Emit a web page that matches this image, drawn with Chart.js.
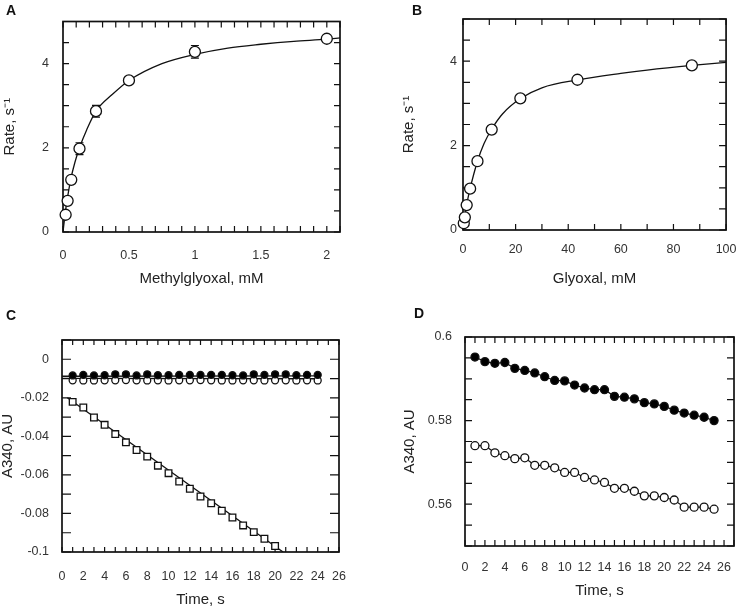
<!DOCTYPE html>
<html><head><meta charset="utf-8">
<script src="https://cdn.jsdelivr.net/npm/chart.js@4"></script>
<style>
html,body{margin:0;padding:0;background:#fff;width:749px;height:607px;overflow:hidden;}
.p{position:absolute;}
.p canvas{display:block;}
.lbl{position:absolute;font:bold 14px "Liberation Sans",Arial,sans-serif;line-height:14px;color:#111;}
</style></head><body>
<div class="p" style="left:0;top:0"><canvas id="cA" width="375" height="300"></canvas></div>
<div class="p" style="left:375px;top:0"><canvas id="cB" width="374" height="300"></canvas></div>
<div class="p" style="left:0;top:300px"><canvas id="cC" width="375" height="307"></canvas></div>
<div class="p" style="left:375px;top:300px"><canvas id="cD" width="374" height="307"></canvas></div>
<div class="lbl" style="left:6px;top:3px">A</div>
<div class="lbl" style="left:412px;top:3px">B</div>
<div class="lbl" style="left:6px;top:308px">C</div>
<div class="lbl" style="left:414px;top:306px">D</div>
<script>
// ---------- Panel A: methylglyoxal ----------
const A_conc = [0.02, 0.035, 0.0625, 0.125, 0.25, 0.5, 1, 2];
const A_rate = [0.41, 0.74, 1.24, 1.98, 2.87, 3.6, 4.28, 4.59];
const A_err  = [0.04, 0.05, 0.05, 0.14, 0.14, 0.08, 0.15, 0.05];
const A_fitX = [0, 0.015, 0.03, 0.06, 0.09, 0.125, 0.18, 0.25, 0.375, 0.5, 0.75, 1, 1.25, 1.5, 1.75, 2, 2.1];
const A_fitY = [0, 0.4, 0.74, 1.27, 1.65, 2.0, 2.43, 2.87, 3.27, 3.6, 4.0, 4.22, 4.37, 4.46, 4.53, 4.58, 4.61];
// ---------- Panel B: glyoxal ----------
const B_conc = [0.3, 0.7, 1.4, 2.7, 5.5, 10.9, 21.8, 43.5, 87];
const B_rate = [0.16, 0.30, 0.59, 0.98, 1.63, 2.38, 3.12, 3.56, 3.9];
const B_fitX = [0, 0.3, 0.7, 1.4, 2.7, 5.5, 8, 11, 15, 22, 30, 44, 60, 70, 87, 100];
const B_fitY = [0, 0.17, 0.33, 0.6, 0.98, 1.63, 2.05, 2.4, 2.75, 3.12, 3.37, 3.56, 3.71, 3.79, 3.9, 3.97];
// ---------- Panel C: time courses ----------
const C_time = [1,2,3,4,5,6,7,8,9,10,11,12,13,14,15,16,17,18,19,20,21,22,23,24];
const C_filled = [-0.0084,-0.0081,-0.0084,-0.0083,-0.0078,-0.0078,-0.0084,-0.0078,-0.0083,-0.0083,-0.0081,-0.0081,-0.0081,-0.0081,-0.0081,-0.0083,-0.0084,-0.0078,-0.0081,-0.0078,-0.0078,-0.0083,-0.0081,-0.0081];
const C_open = [-0.0109,-0.011,-0.011,-0.0109,-0.0109,-0.0108,-0.0109,-0.011,-0.0109,-0.011,-0.0109,-0.0109,-0.0108,-0.0109,-0.011,-0.011,-0.0109,-0.0109,-0.011,-0.0109,-0.0109,-0.011,-0.0109,-0.011];
const C_sqTime = [1,2,3,4,5,6,7,8,9,10,11,12,13,14,15,16,17,18,19,20];
const C_square = [-0.0221,-0.025,-0.0302,-0.034,-0.0388,-0.0431,-0.0471,-0.0505,-0.0552,-0.0591,-0.0634,-0.0672,-0.0712,-0.0747,-0.0786,-0.0821,-0.0862,-0.0897,-0.0931,-0.0969];
const C_filledFitX = [0, 24], C_filledFitY = [-0.0088, -0.0086];
const C_openFitX = [0, 24],   C_openFitY = [-0.0099, -0.0101];
const C_sqFitX = [0.5, 20.75], C_sqFitY = [-0.0200, -0.1];
// ---------- Panel D ----------
const D_time = [1,2,3,4,5,6,7,8,9,10,11,12,13,14,15,16,17,18,19,20,21,22,23,24,25];
const D_filled = [0.5952,0.5941,0.5937,0.5939,0.5925,0.592,0.5914,0.5905,0.5896,0.5895,0.5885,0.5878,0.5874,0.5874,0.5858,0.5856,0.5852,0.5843,0.584,0.5834,0.5825,0.5818,0.5813,0.5808,0.58];
const D_open = [0.574,0.574,0.5723,0.5716,0.5709,0.5711,0.5693,0.5693,0.5687,0.5676,0.5676,0.5664,0.5658,0.5652,0.5638,0.5638,0.5631,0.562,0.562,0.5616,0.561,0.5593,0.5593,0.5593,0.5588];

const pts = (xs, ys) => xs.map((x, i) => ({x, y: ys[i]}));
const FONT = '"Liberation Sans", Arial, Helvetica, sans-serif';
Chart.defaults.font.family = FONT;
const TICKCOL = '#333', TITLECOL = '#222', INK = '#111';

const framePlugin = {
  id: 'frame',
  beforeDatasetsDraw(chart, args, o) {
    const {ctx, chartArea: a, scales} = chart;
    const xs = scales.x, ys = scales.y;
    ctx.save();
    ctx.strokeStyle = INK;
    ctx.lineWidth = 1.2;
    ctx.beginPath();
    xs.ticks.forEach(t => {
      const px = xs.getPixelForValue(t.value);
      ctx.moveTo(px, a.bottom); ctx.lineTo(px, a.bottom - o.xLen);
      ctx.moveTo(px, a.top); ctx.lineTo(px, a.top + o.xLen);
    });
    ys.ticks.forEach(t => {
      const py = ys.getPixelForValue(t.value);
      ctx.moveTo(a.left, py); ctx.lineTo(a.left + o.yLen, py);
      ctx.moveTo(a.right, py); ctx.lineTo(a.right - o.yLen, py);
    });
    ctx.stroke();
    ctx.lineWidth = 1.7;
    ctx.strokeRect(a.left, a.top, a.right - a.left, a.bottom - a.top);
    // error bars
    if (o.errX) {
      ctx.lineWidth = 1.2;
      ctx.beginPath();
      o.errX.forEach((x, i) => {
        const px = xs.getPixelForValue(x);
        const y1 = ys.getPixelForValue(o.errY[i] + o.err[i]);
        const y2 = ys.getPixelForValue(o.errY[i] - o.err[i]);
        ctx.moveTo(px, y1); ctx.lineTo(px, y2);
        ctx.moveTo(px - 4, y1); ctx.lineTo(px + 4, y1);
        ctx.moveTo(px - 4, y2); ctx.lineTo(px + 4, y2);
      });
      ctx.stroke();
    }
    ctx.restore();
  }
};

const isMult = (v, s) => Math.abs(v / s - Math.round(v / s)) < 1e-6;
const fmt = v => String(parseFloat(v.toFixed(4)));

function axis(opt) {
  return {
    type: 'linear',
    position: opt.pos,
    min: opt.min, max: opt.max,
    grid: {display: false, drawTicks: false},
    border: {display: false},
    ticks: {
      stepSize: opt.step, autoSkip: false, maxRotation: 0,
      padding: opt.pad, color: TICKCOL,
      font: {size: 12.5, family: FONT},
      callback: v => isMult(v, opt.lab) ? fmt(v) : ''
    },
    title: {
      display: true, text: opt.title, color: TITLECOL,
      font: {size: 15, family: FONT, lineHeight: 1},
      padding: opt.tpad
    },
    afterFit: s => { if (opt.pos === 'left') s.width = opt.size; else s.height = opt.size; }
  };
}

function make(id, datasets, xo, yo, pad, frameOpts) {
  return new Chart(document.getElementById(id), {
    type: 'scatter',
    data: {datasets},
    options: {
      responsive: false, animation: false, devicePixelRatio: 1,
      layout: {padding: pad},
      plugins: {legend: {display: false}, tooltip: {enabled: false}, frame: frameOpts},
      scales: {x: axis(xo), y: axis(yo)}
    },
    plugins: [framePlugin]
  });
}

const curve = (xs, ys) => ({data: pts(xs, ys), showLine: true, pointRadius: 0, borderColor: INK, borderWidth: 1.3, cubicInterpolationMode: 'monotone', order: 1});
const marks = (xs, ys, r, fill, style, line) => ({data: pts(xs, ys), showLine: !!line, borderColor: INK, borderWidth: 1.2,
  pointRadius: r, pointStyle: style || 'circle', pointBackgroundColor: fill, pointBorderColor: INK, pointBorderWidth: 1.3, clip: false, order: 0});

// A
make('cA',
  [marks(A_conc, A_rate, 5.5, '#fff'), curve(A_fitX, A_fitY)],
  {pos: 'bottom', min: 0, max: 2.1, step: 0.1, lab: 0.5, pad: 16.5, title: 'Methylglyoxal, mM', tpad: {top: 0, bottom: 13.5}, size: 68},
  {pos: 'left', min: 0, max: 5, step: 0.5, lab: 2, pad: 14, title: 'Rate, s\u207B\u00B9', tpad: {top: 2.5, bottom: 0}, size: 63},
  {top: 19, right: 35, left: 0, bottom: 0},
  {xLen: 6, yLen: 6, errX: A_conc, errY: A_rate, err: A_err});

// B
make('cB',
  [marks(B_conc, B_rate, 5.5, '#fff'), curve(B_fitX, B_fitY)],
  {pos: 'bottom', min: 0, max: 100, step: 10, lab: 20, pad: 12.5, title: 'Glyoxal, mM', tpad: {top: 0, bottom: 13.5}, size: 70},
  {pos: 'left', min: 0, max: 5, step: 0.5, lab: 2, pad: 6, title: 'Rate, s\u207B\u00B9', tpad: {top: 26.5, bottom: 0}, size: 88},
  {top: 19, right: 11, left: 0, bottom: 0},
  {xLen: 6, yLen: 7});

// C
make('cC',
  [marks(C_time, C_filled, 3.5, '#000'), marks(C_time, C_open, 3.5, '#fff'), marks(C_sqTime, C_square, 4.7, '#fff', 'rect'),
   {...curve(C_filledFitX, C_filledFitY), cubicInterpolationMode: 'default'},
   {...curve(C_openFitX, C_openFitY), cubicInterpolationMode: 'default'},
   {...curve(C_sqFitX, C_sqFitY), cubicInterpolationMode: 'default'}],
  {pos: 'bottom', min: 0, max: 26, step: 1, lab: 2, pad: 17, title: 'Time, s', tpad: {top: 0, bottom: 0}, size: 55},
  {pos: 'left', min: -0.1, max: 0.01, step: 0.01, lab: 0.02, pad: 13, title: 'A340, AU', tpad: {top: 0.5, bottom: 0}, size: 62},
  {top: 40, right: 36, left: 0, bottom: 0},
  {xLen: 5, yLen: 9});

// D
make('cD',
  [marks(D_time, D_filled, 4, '#000', 'circle', true), marks(D_time, D_open, 4, '#fff', 'circle', true)],
  {pos: 'bottom', min: 0, max: 27, step: 1, lab: 2, pad: 14.5, title: 'Time, s', tpad: {top: 0, bottom: 8.5}, size: 61},
  {pos: 'left', min: 0.55, max: 0.6, step: 0.005, lab: 0.02, pad: 13, title: 'A340, AU', tpad: {top: 27.5, bottom: 0}, size: 90},
  {top: 37, right: 15, left: 0, bottom: 0},
  {xLen: 6, yLen: 7});
</script>
</body></html>
